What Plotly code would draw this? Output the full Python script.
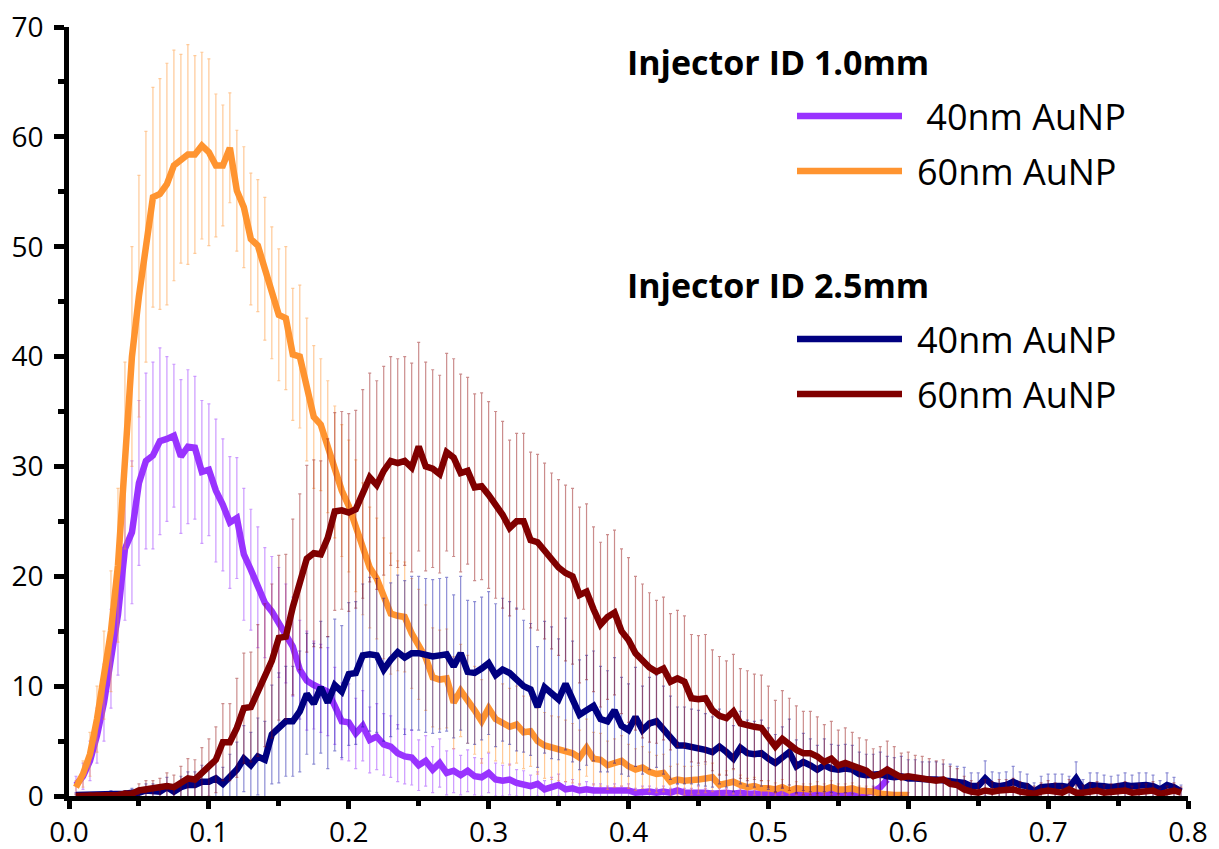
import plotly.graph_objects as go

# ---------------- data ----------------
X = [0.005, 0.01, 0.015, 0.02, 0.025, 0.03, 0.035, 0.04, 0.045, 0.05,
     0.055, 0.06, 0.065, 0.07, 0.075, 0.08, 0.085, 0.09, 0.095, 0.1,
     0.105, 0.11, 0.115, 0.12, 0.125, 0.13, 0.135, 0.14, 0.145, 0.15,
     0.155, 0.16, 0.165, 0.17, 0.175, 0.18, 0.185, 0.19, 0.195, 0.2,
     0.205, 0.21, 0.215, 0.22, 0.225, 0.23, 0.235, 0.24, 0.245, 0.25,
     0.255, 0.26, 0.265, 0.27, 0.275, 0.28, 0.285, 0.29, 0.295, 0.3,
     0.305, 0.31, 0.315, 0.32, 0.325, 0.33, 0.335, 0.34, 0.345, 0.35,
     0.355, 0.36, 0.365, 0.37, 0.375, 0.38, 0.385, 0.39, 0.395, 0.4,
     0.405, 0.41, 0.415, 0.42, 0.425, 0.43, 0.435, 0.44, 0.445, 0.45,
     0.455, 0.46, 0.465, 0.47, 0.475, 0.48, 0.485, 0.49, 0.495, 0.5,
     0.505, 0.51, 0.515, 0.52, 0.525, 0.53, 0.535, 0.54, 0.545, 0.55,
     0.555, 0.56, 0.565, 0.57, 0.575, 0.58, 0.585, 0.59, 0.595, 0.6,
     0.605, 0.61, 0.615, 0.62, 0.625, 0.63, 0.635, 0.64, 0.645, 0.65,
     0.655, 0.66, 0.665, 0.67, 0.675, 0.68, 0.685, 0.69, 0.695, 0.7,
     0.705, 0.71, 0.715, 0.72, 0.725, 0.73, 0.735, 0.74, 0.745, 0.75,
     0.755, 0.76, 0.765, 0.77, 0.775, 0.78, 0.785, 0.79, 0.795]

# Injector ID 1.0mm, 40nm AuNP
p40_y = [1.0, 1.8, 3.2, 5.5, 8.5, 12.5, 16.5, 22.5, 24.0, 28.5,
         30.5, 31.0, 32.3, 32.5, 32.8, 30.9, 31.8, 31.7, 29.5, 29.7,
         27.8, 26.5, 24.9, 25.3, 22.0, 20.6, 19.0, 17.6, 16.8, 15.8,
         14.8, 13.6, 11.5, 10.5, 10.1, 9.8, 9.5, 8.2, 6.8, 6.7,
         5.7, 6.4, 5.1, 5.4, 4.7, 4.5, 3.9, 3.6, 3.5, 2.8,
         3.2, 2.4, 3.0, 2.1, 2.3, 1.9, 2.3, 1.8, 1.7, 2.1,
         1.5, 1.4, 1.5, 1.2, 1.1, 0.9, 1.1, 0.6, 0.8, 1.0,
         0.6, 0.7, 0.5, 0.6, 0.5, 0.5, 0.4, 0.5, 0.4, 0.5,
         0.3, 0.4, 0.4, 0.3, 0.4, 0.3, 0.5, 0.3, 0.3, 0.4,
         0.3, 0.2, 0.3, 0.3, 0.2, 0.3, 0.2, 0.2, 0.3, 0.2,
         0.3, 0.2, 0.3, 0.2, 0.2, 0.3, 0.2, 0.2, 0.3, 0.2,
         0.3, 0.2, 0.3, 0.3, 0.4, 0.8, 1.5]
p40_err = [0.8, 1.2, 1.8, 2.5, 3.5, 4.5, 5.5, 6.5, 6.5, 7.5,
           8.0, 8.5, 8.5, 7.5, 6.5, 7.0, 7.0, 6.5, 6.5, 6.0,
           6.5, 6.0, 6.0, 5.5, 6.0, 5.5, 5.5, 5.0, 5.0, 5.0,
           4.5, 4.5, 4.5, 4.5, 4.0, 4.0, 4.0, 3.5, 3.5, 3.5,
           3.2, 3.2, 3.0, 3.0, 2.8, 2.8, 2.6, 2.5, 2.5, 2.3,
           2.3, 2.1, 2.2, 2.0, 2.0, 1.8, 1.9, 1.7, 1.7, 1.8,
           1.5, 1.4, 1.4, 1.2, 1.2, 1.0, 1.1, 0.8, 0.9, 1.0,
           0.7, 0.8, 0.6, 0.7, 0.6, 0.6, 0.5, 0.6, 0.5, 0.6,
           0.4, 0.5, 0.5, 0.4, 0.5, 0.4, 0.6, 0.4, 0.4, 0.5,
           0.4, 0.3, 0.4, 0.4, 0.3, 0.4, 0.3, 0.3, 0.4, 0.3,
           0.4, 0.3, 0.4, 0.3, 0.3, 0.4, 0.3, 0.3, 0.4, 0.3,
           0.4, 0.3, 0.4, 0.4, 0.5, 0.8, 1.2]

# Injector ID 1.0mm, 60nm AuNP
p60_y = [0.8, 2.0, 3.8, 7.0, 11.0, 15.0, 21.0, 31.0, 40.0, 45.5,
         50.0, 54.5, 54.8, 55.7, 57.4, 58.0, 58.4, 58.4, 59.2, 58.6,
         57.4, 57.4, 59.0, 55.1, 53.6, 50.7, 50.1, 48.0, 45.8, 43.8,
         43.5, 40.2, 40.0, 37.0, 34.5, 33.8, 31.8, 29.5, 27.8, 26.4,
         24.6, 22.5, 20.8, 19.8, 18.0, 16.6, 16.4, 16.3, 14.8, 13.8,
         12.6, 10.8, 10.6, 10.7, 8.5, 9.6, 8.8, 7.8, 6.8, 8.0,
         7.0, 6.6, 6.3, 6.5, 5.8, 5.9, 5.0, 4.6, 4.4, 4.3,
         4.1, 3.9, 3.5, 4.4, 3.4, 3.3, 2.8, 3.0, 3.2, 2.7,
         2.4, 2.6, 2.2, 2.0, 2.1, 1.3, 1.5, 1.4, 1.4, 1.5,
         1.6, 1.7, 1.0, 1.2, 1.3, 1.0, 0.8, 0.9, 0.7, 0.7,
         0.6, 0.8, 0.5, 0.7, 0.6, 0.6, 0.7, 0.6, 0.8, 0.6,
         0.6, 0.7, 0.5, 0.5, 0.4, 0.2, 0.1, 0.1, 0.1, 0.1]
p60_err = [0.6, 1.2, 2.0, 3.0, 4.0, 5.5, 7.0, 8.5, 10.0, 11.0,
           10.5, 10.0, 10.5, 11.0, 10.5, 9.5, 10.0, 9.0, 8.5, 8.5,
           6.5, 5.5, 5.0, 5.5, 5.5, 6.0, 6.0, 6.5, 6.0, 6.0,
           6.5, 6.0, 6.5, 6.5, 6.5, 6.0, 6.0, 6.0, 6.0, 6.0,
           6.0, 6.0, 5.5, 5.5, 5.5, 5.5, 5.0, 5.0, 5.0, 5.0,
           4.8, 4.5, 4.5, 4.5, 4.2, 4.2, 4.0, 4.0, 3.8, 4.0,
           3.8, 3.6, 3.5, 3.5, 3.3, 3.2, 3.0, 3.0, 2.9, 2.9,
           2.8, 2.7, 2.5, 2.6, 2.4, 2.4, 2.2, 2.2, 2.3, 2.0,
           1.9, 1.9, 1.8, 1.7, 1.7, 1.4, 1.4, 1.3, 1.3, 1.3,
           1.3, 1.3, 1.0, 1.1, 1.1, 0.9, 0.8, 0.8, 0.7, 0.7,
           0.6, 0.7, 0.5, 0.6, 0.5, 0.5, 0.6, 0.5, 0.6, 0.5,
           0.5, 0.5, 0.4, 0.4, 0.4, 0.3, 0.2, 0.2, 0.2, 0.2]

# Injector ID 2.5mm, 40nm AuNP
q40_y = [0.1, 0.1, 0.1, 0.1, 0.1, 0.2, 0.1, 0.2, 0.3, 0.3,
         0.5, 0.5, 0.4, 0.8, 0.4, 0.8, 1.0, 1.0, 1.3, 1.3,
         1.6, 1.1, 1.8, 2.4, 3.4, 2.8, 3.6, 3.3, 5.6, 6.2,
         6.8, 6.8, 7.7, 9.3, 8.4, 9.9, 8.5, 10.1, 9.5, 11.1,
         11.2, 12.8, 12.9, 12.8, 11.5, 12.4, 13.1, 12.6, 13.0, 13.0,
         12.8, 12.7, 12.8, 12.9, 11.8, 13.0, 11.3, 11.2, 11.6, 12.1,
         11.0, 11.5, 11.2, 10.6, 10.0, 9.7, 8.1, 9.9, 9.4, 8.8,
         10.2, 8.6, 7.4, 7.8, 8.2, 7.0, 6.8, 7.8, 6.4, 6.0,
         7.2, 6.0, 6.6, 6.8, 6.0, 5.3, 4.6, 4.6, 4.5, 4.4,
         4.2, 4.0, 4.5, 4.0, 3.4, 4.4, 3.9, 3.8, 3.9, 3.4,
         3.0, 3.5, 4.0, 2.7, 3.1, 2.8, 2.4, 2.8, 2.5, 2.4,
         2.5, 2.4, 2.0, 1.9, 1.9, 2.0, 1.8, 1.7, 1.8, 1.6,
         1.6, 1.5, 1.5, 1.5, 1.4, 1.4, 1.3, 1.2, 0.9, 0.9,
         1.6, 1.0, 0.9, 1.0, 1.3, 1.0, 0.9, 0.4, 0.8, 0.9,
         0.9, 0.9, 0.8, 1.6, 0.6, 1.0, 1.0, 0.9, 0.8, 0.9,
         1.0, 0.9, 1.0, 1.0, 0.9, 0.6, 1.0, 0.8, 0.4]
q40_err = [0.2, 0.2, 0.2, 0.2, 0.2, 0.3, 0.2, 0.3, 0.4, 0.4,
           0.6, 0.6, 0.6, 0.9, 0.6, 1.0, 1.2, 1.2, 1.5, 1.5,
           1.8, 1.5, 2.0, 2.5, 3.0, 3.0, 3.5, 3.5, 4.5, 5.0,
           5.0, 5.0, 5.5, 5.5, 5.5, 6.0, 6.0, 6.0, 6.0, 6.5,
           6.5, 6.5, 7.0, 7.0, 6.5, 7.0, 7.0, 7.0, 7.0, 7.0,
           7.0, 7.0, 7.0, 7.0, 6.5, 7.0, 6.5, 6.5, 6.5, 6.5,
           6.5, 6.5, 6.5, 6.5, 6.0, 6.0, 5.5, 6.0, 6.0, 5.5,
           6.0, 5.5, 5.0, 5.0, 5.0, 4.8, 4.6, 4.8, 4.4, 4.2,
           4.5, 4.0, 4.2, 4.2, 4.0, 3.8, 3.5, 3.5, 3.4, 3.4,
           3.3, 3.2, 3.4, 3.2, 3.0, 3.3, 3.0, 3.0, 3.0, 2.8,
           2.6, 2.8, 3.0, 2.4, 2.6, 2.4, 2.2, 2.4, 2.2, 2.2,
           2.2, 2.2, 2.0, 1.9, 1.9, 2.0, 1.8, 1.8, 1.8, 1.7,
           1.7, 1.6, 1.6, 1.6, 1.5, 1.5, 1.4, 1.4, 1.2, 1.2,
           1.6, 1.2, 1.2, 1.2, 1.4, 1.2, 1.1, 0.8, 1.0, 1.1,
           1.1, 1.1, 1.0, 1.5, 0.9, 1.1, 1.1, 1.0, 1.0, 1.0,
           1.1, 1.0, 1.1, 1.1, 1.0, 0.8, 1.1, 0.9, 0.6]

# Injector ID 2.5mm, 60nm AuNP
q60_y = [0.0, 0.0, 0.1, 0.1, 0.0, 0.1, 0.1, 0.2, 0.2, 0.5,
         0.6, 0.6, 0.7, 0.9, 0.8, 1.2, 1.6, 1.5, 2.1, 2.6,
         3.3, 4.9, 4.9, 6.2, 8.0, 8.1, 9.6, 11.0, 12.3, 14.4,
         14.5, 17.2, 19.5, 21.6, 22.1, 22.0, 23.5, 25.9, 26.0, 25.8,
         26.1, 27.5, 29.0, 28.3, 29.6, 30.5, 30.3, 30.5, 29.9, 31.8,
         30.0, 29.8, 29.3, 31.3, 30.8, 29.4, 29.6, 28.1, 28.2, 27.4,
         26.5, 25.6, 24.4, 25.0, 25.0, 23.3, 23.1, 22.3, 21.4, 20.8,
         20.3, 20.0, 18.3, 18.6, 17.0, 15.6, 16.3, 16.7, 15.0, 14.2,
         13.0, 12.3, 11.7, 11.3, 11.6, 10.4, 10.7, 10.4, 8.9, 8.8,
         8.9, 7.8, 7.3, 7.1, 7.7, 6.6, 6.4, 6.3, 6.2, 5.4,
         4.5, 5.2, 4.7, 4.2, 3.9, 3.9, 3.6, 3.1, 3.4, 2.8,
         3.0, 2.8, 2.5, 2.3, 1.8, 2.0, 2.4, 2.1, 1.7, 1.8,
         1.7, 1.6, 1.5, 1.4, 1.5, 1.1, 1.0, 0.6, 0.4, 0.3,
         0.5, 0.4, 0.5, 0.5, 0.6, 0.4, 0.3, 0.2, 0.4, 0.5,
         0.4, 0.3, 0.6, 0.3, 0.3, 0.4, 0.5, 0.3, 0.4, 0.4,
         0.5, 0.3, 0.4, 0.4, 0.5, 0.2, 0.3, 0.5, 0.3]
q60_err = [0.1, 0.1, 0.2, 0.2, 0.1, 0.2, 0.2, 0.3, 0.3, 0.6,
           0.8, 0.8, 0.9, 1.2, 1.1, 1.5, 1.8, 1.8, 2.3, 2.6,
           3.0, 3.5, 3.5, 4.5, 5.0, 5.0, 6.0, 6.5, 7.0, 7.5,
           7.5, 8.0, 8.0, 8.5, 8.5, 8.5, 9.0, 9.0, 9.0, 9.0,
           9.0, 9.5, 9.5, 9.5, 9.5, 9.5, 9.5, 9.5, 9.5, 9.5,
           9.5, 9.0, 9.0, 9.0, 9.0, 9.0, 8.5, 8.5, 8.5, 8.5,
           8.5, 8.5, 8.0, 8.0, 8.0, 8.0, 8.0, 8.0, 8.0, 8.0,
           8.0, 8.0, 8.0, 8.0, 7.5, 7.5, 7.5, 7.5, 7.5, 7.5,
           7.0, 7.0, 6.8, 6.5, 6.5, 6.2, 6.2, 6.0, 5.8, 5.8,
           5.8, 5.5, 5.4, 5.2, 5.2, 5.0, 5.0, 4.8, 4.8, 4.6,
           4.2, 4.4, 4.2, 4.0, 3.8, 3.8, 3.6, 3.4, 3.4, 3.2,
           3.2, 3.0, 2.8, 2.8, 2.5, 2.5, 2.6, 2.4, 2.2, 2.2,
           2.0, 2.0, 1.9, 1.8, 1.8, 1.6, 1.5, 1.2, 1.0, 0.9,
           1.0, 0.9, 1.0, 1.0, 1.0, 0.9, 0.8, 0.7, 0.8, 0.9,
           0.8, 0.7, 0.9, 0.7, 0.7, 0.8, 0.8, 0.7, 0.7, 0.7,
           0.8, 0.6, 0.7, 0.7, 0.8, 0.5, 0.6, 0.7, 0.5]

x_ticks = [0.0, 0.1, 0.2, 0.3, 0.4, 0.5, 0.6, 0.7, 0.8]
x_ticktext = ["0.0", "0.1", "0.2", "0.3", "0.4", "0.5", "0.6", "0.7", "0.8"]
y_ticks = [0, 10, 20, 30, 40, 50, 60, 70]

group_titles = ["Injector ID 1.0mm", "Injector ID 2.5mm"]
series_labels = [" 40nm AuNP", "60nm AuNP", "40nm AuNP", "60nm AuNP"]

# ---------------- styling ----------------
W, H = 1219, 849
ML, MR, MT, MB = 69, 31, 27, 53
FONT = "Open Sans"
colors = ["#9933ff", "#ff9430", "#000080", "#800000"]
err_colors = ["rgba(153,51,255,0.5)", "rgba(255,148,48,0.5)",
              "rgba(0,0,160,0.45)", "rgba(140,0,0,0.45)"]

series = [(p40_y, p40_err), (p60_y, p60_err), (q40_y, q40_err), (q60_y, q60_err)]

fig = go.Figure()
for i, (ys, es) in enumerate(series):
    fig.add_trace(go.Scatter(
        x=X[:len(ys)], y=ys, mode="lines",
        line=dict(color=colors[i], width=6.5),
        error_y=dict(type="data", array=es, visible=True,
                     color=err_colors[i], thickness=1.2, width=1.5),
        showlegend=False, name=series_labels[i]))

pw = W - ML - MR
ph = H - MT - MB


def px_x(px):
    return (px - ML) / pw


def px_y(py):
    return (H - MB - py) / ph


annotations = []
shapes = []
# group titles
for t, py in zip(group_titles, [62, 285]):
    annotations.append(dict(text="<b>" + t + "</b>", x=px_x(625), y=px_y(py),
                            xref="paper", yref="paper", xanchor="left", yanchor="middle",
                            showarrow=False, font=dict(family=FONT, size=34, color="black")))
# legend entries
entry_y = [116, 171, 339, 394]
for i, (lab, py) in enumerate(zip(series_labels, entry_y)):
    shapes.append(dict(type="line", xref="paper", yref="paper",
                       x0=px_x(797), x1=px_x(902), y0=px_y(py), y1=px_y(py),
                       line=dict(color=colors[i], width=6.5)))
    annotations.append(dict(text=lab, x=px_x(915), y=px_y(py),
                            xref="paper", yref="paper", xanchor="left", yanchor="middle",
                            showarrow=False, font=dict(family=FONT, size=36, color="black")))

axis_common = dict(showline=True, linewidth=4.5, linecolor="black", mirror=False,
                   ticks="outside", tickwidth=4.5, tickcolor="black",
                   showgrid=False, zeroline=False, automargin=False,
                   tickfont=dict(family=FONT, size=28, color="black"))

fig.update_layout(
    width=W, height=H,
    margin=dict(l=ML, r=MR, t=MT, b=MB),
    paper_bgcolor="white", plot_bgcolor="white",
    font=dict(family=FONT, color="black"),
    annotations=annotations, shapes=shapes,
    xaxis=dict(range=[0, 0.8], tickvals=x_ticks, ticktext=x_ticktext, ticklen=8,
               minor=dict(dtick=0.05, tick0=0, ticks="outside", ticklen=5,
                          tickwidth=4.5, tickcolor="black"),
               ticklabelstandoff=0, **axis_common),
    yaxis=dict(range=[0, 70], tickvals=y_ticks, ticklen=10,
               minor=dict(dtick=5, tick0=0, ticks="outside", ticklen=6,
                          tickwidth=4.5, tickcolor="black"),
               ticklabelstandoff=5, **axis_common),
)

fig.write_html("out.html")
